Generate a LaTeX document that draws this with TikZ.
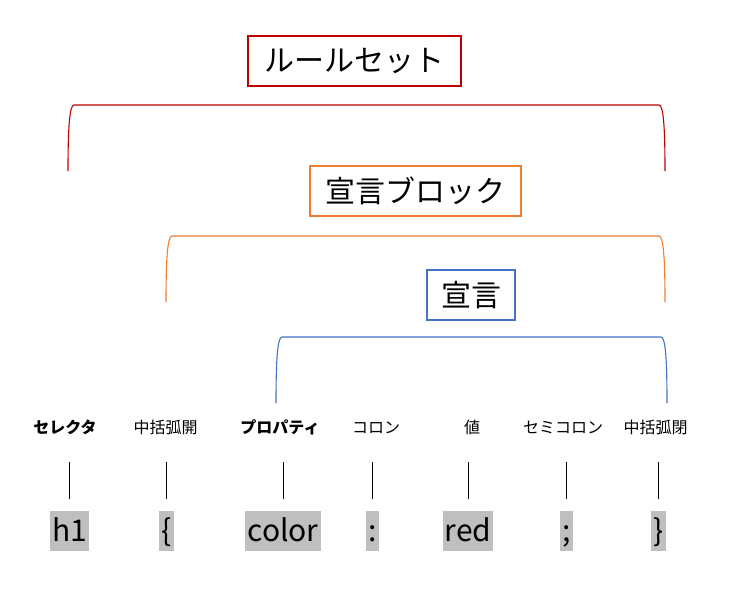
\documentclass[tikz,border=0pt]{standalone}
\usepackage{fontspec}
\setmainfont{Noto Sans CJK JP}
\usetikzlibrary{positioning}
\definecolor{RuleRed}{RGB}{192,0,0}
\definecolor{BlockOrange}{RGB}{237,125,49}
\definecolor{DeclBlue}{RGB}{68,114,196}
\definecolor{MarkGray}{RGB}{191,191,191}
\tikzset{
  titlebox/.style={draw, line width=1.1pt, minimum height=50pt, inner xsep=0pt, font=\fontsize{30}{32}\selectfont},
  partlabel/.style={inner sep=0pt, text height=13pt, text depth=3pt, font=\fontsize{16}{18}\selectfont},
  codepart/.style={anchor=base, fill=MarkGray, inner xsep=2pt, inner ysep=1.5pt, text height=29pt, text depth=8pt, font=\fontsize{30}{32}\selectfont},
  brace/.style={line width=1.1pt},
  tick/.style={line width=0.8pt, shorten <=11pt, shorten >=26pt}
}
\begin{document}
\begin{tikzpicture}[x=1pt, y=-1pt]
  \useasboundingbox (0,0) rectangle (729,610);
  \node[titlebox, RuleRed, minimum width=213pt] (ruleset) at (354.5,61) {\color{black}ルールセット};
  \node[titlebox, BlockOrange, minimum width=211pt] (block) at (415.5,191) {\color{black}宣言ブロック};
  \node[titlebox, DeclBlue, minimum width=88pt] (decl) at (471,295) {\color{black}宣言};
  \draw[brace, RuleRed] (68,171) .. controls (68,128) and (69.5,105) .. (74,105) -- (659,105) .. controls (663.5,105) and (665,128) .. (665,171);
  \draw[brace, BlockOrange] (166,302) .. controls (166,259) and (167.5,236) .. (172,236) -- (659,236) .. controls (663.5,236) and (665,259) .. (665,302);
  \draw[brace, DeclBlue] (276,403) .. controls (276,360) and (277.5,337) .. (282,337) -- (661,337) .. controls (665.5,337) and (667,360) .. (667,403);
  \node[partlabel, font=\fontsize{16}{18}\selectfont\bfseries] (lSel) at (65,428) {セレクタ};
  \node[partlabel] (lOpen) at (165.5,428) {中括弧開};
  \node[partlabel, font=\fontsize{16}{18}\selectfont\bfseries] (lProp) at (280,428) {プロパティ};
  \node[partlabel] (lColon) at (376,428) {コロン};
  \node[partlabel] (lVal) at (472,428) {値};
  \node[partlabel] (lSemi) at (563,428) {セミコロン};
  \node[partlabel] (lClose) at (655.5,428) {中括弧閉};
  \node[codepart] (cSel) at (69.5,541) {h1};
  \node[codepart] (cOpen) at (166.5,541) {\{};
  \node[codepart] (cProp) at (283,541) {color};
  \node[codepart] (cColon) at (372.5,541) {:};
  \node[codepart] (cVal) at (468,541) {red};
  \node[codepart] (cSemi) at (566.5,541) {;};
  \node[codepart] (cClose) at (658.5,541) {\}};
  \foreach \c/\l in {cSel/lSel, cOpen/lOpen, cProp/lProp, cColon/lColon, cVal/lVal, cSemi/lSemi, cClose/lClose}
    \draw[tick] (\c.north) -- (\c.north |- \l.south);
\end{tikzpicture}
\end{document}
